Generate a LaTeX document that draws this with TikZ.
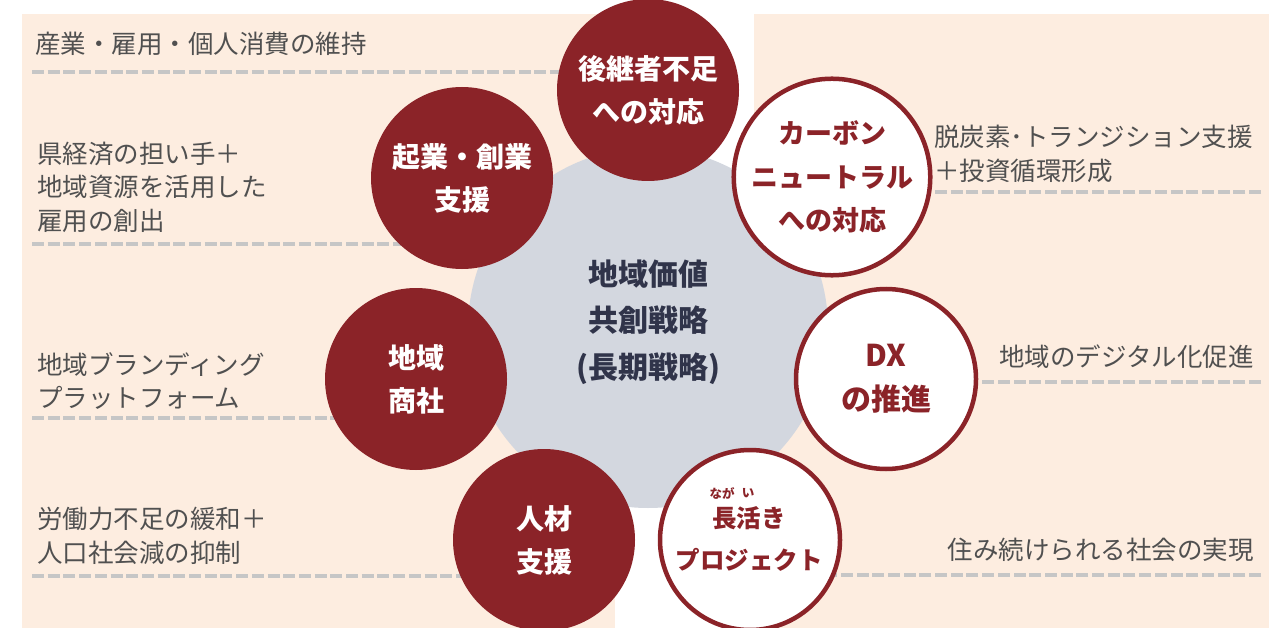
\documentclass[tikz,border=0pt]{standalone}
\usepackage{fontspec}
\setmainfont{Noto Sans CJK JP}
\definecolor{peach}{HTML}{FDEDE0}
\definecolor{hubgray}{HTML}{D3D7DF}
\definecolor{wine}{HTML}{8B2328}
\definecolor{hubtext}{HTML}{30344A}
\definecolor{labeltext}{HTML}{505050}
\definecolor{dashgray}{HTML}{C6C6C6}
\tikzset{
  panel/.style={fill=peach, draw=none},
  hub/.style={circle, fill=hubgray, minimum size=360pt, inner sep=0pt, text=hubtext,
    font=\fontsize{30}{46.5}\selectfont\bfseries, align=center},
  filledc/.style={circle, fill=wine, minimum size=182pt, inner sep=0pt, text=white,
    font=\fontsize{28}{43}\selectfont\bfseries, align=center},
  ringc/.style={circle, fill=white, draw=wine, line width=4.5pt, minimum size=180pt, inner sep=0pt,
    text=wine, font=\fontsize{27}{43.5}\selectfont\bfseries, align=center},
  lbl/.style={text=labeltext, font=\fontsize{25.5}{33.5}\selectfont, inner sep=0pt},
  dashline/.style={draw=dashgray, line width=4pt, dash pattern=on 12pt off 3.7pt},
  ruby/.style={text=wine, font=\fontsize{12.5}{13}\selectfont\bfseries, inner sep=0pt},
}
\begin{document}
\begin{tikzpicture}[x=1pt,y=-1pt]
\useasboundingbox (0,0) rectangle (1281,628);
% panels
\fill[panel] (22,14) rectangle (615,628);
\fill[panel] (754,14) rectangle (1269,628);
% coordinates for dashes and circle centres
\coordinate (dl1) at (32,72);
\coordinate (dl2) at (32,244);
\coordinate (dl3) at (32,418);
\coordinate (dl4) at (32,576);
\coordinate (dr1) at (1261,192);
\coordinate (dr2) at (1261,382);
\coordinate (dr3) at (1261,575);
\coordinate (pc1) at (648,90);
\coordinate (pc2) at (462,178);
\coordinate (pc3) at (416,379);
\coordinate (pc4) at (544,540);
\coordinate (pc5) at (832,177);
\coordinate (pc6) at (886,379);
\coordinate (pc7) at (750,540);
% dashed lines
\draw[dashline] (dl1) -- (dl1 -| pc1);
\draw[dashline] (dl2) -- (dl2 -| pc2);
\draw[dashline] (dl3) -- (dl3 -| pc3);
\draw[dashline] (dl4) -- (dl4 -| pc4);
\draw[dashline] (dr1) -- (dr1 -| pc5);
\draw[dashline] (dr2) -- (dr2 -| pc6);
\draw[dashline] (dr3) -- (dr3 -| pc7);
% hub
\node[hub] (hub) at (648,328) {};
\node[text=hubtext, font=\fontsize{30}{46.5}\selectfont\bfseries, align=center] (hubtxt) at (648,322) {地域価値\\共創戦略\\(長期戦略)};
% circles
\node[filledc] (c1) at (pc1) {後継者不足\\への対応};
\node[filledc] (c2) at (pc2) {起業・創業\\支援};
\node[filledc] (c3) at (pc3) {地域\\商社};
\node[filledc] (c4) at (pc4) {人材\\支援};
\node[ringc] (c5) at (pc5) {カーボン\\ニュートラル\\への対応};
\node[ringc, font=\fontsize{30}{44}\selectfont\bfseries] (c6) at (pc6) {DX\\の推進};
\node[ringc] (c7) at (pc7) {};
\node[text=wine, font=\fontsize{24.5}{42}\selectfont\bfseries, align=center] (c7t) at (749,539) {長活き\\プロジェクト};
\node[ruby] (r1) at (722,493) {なが};
\node[ruby] (r2) at (748,493) {い};
% labels left
\node[lbl, anchor=west] (l1) at (35,44) {産業・雇用・個人消費の維持};
\node[lbl, anchor=west, align=left] (l2) at (37,187) {県経済の担い手＋\\地域資源を活用した\\雇用の創出};
\node[lbl, anchor=west, align=left] (l3) at (37,381) {地域ブランディング\\プラットフォーム};
\node[lbl, anchor=west, align=left] (l4) at (37,536) {労働力不足の緩和＋\\人口社会減の抑制};
% labels right
\node[lbl, anchor=west, align=left] (r1l) at (934,154) {脱炭素･トランジション支援\\＋投資循環形成};
\node[lbl, anchor=east] (r2l) at (1254,357) {地域のデジタル化促進};
\node[lbl, anchor=east] (r3l) at (1254,550) {住み続けられる社会の実現};
\end{tikzpicture}
\end{document}
